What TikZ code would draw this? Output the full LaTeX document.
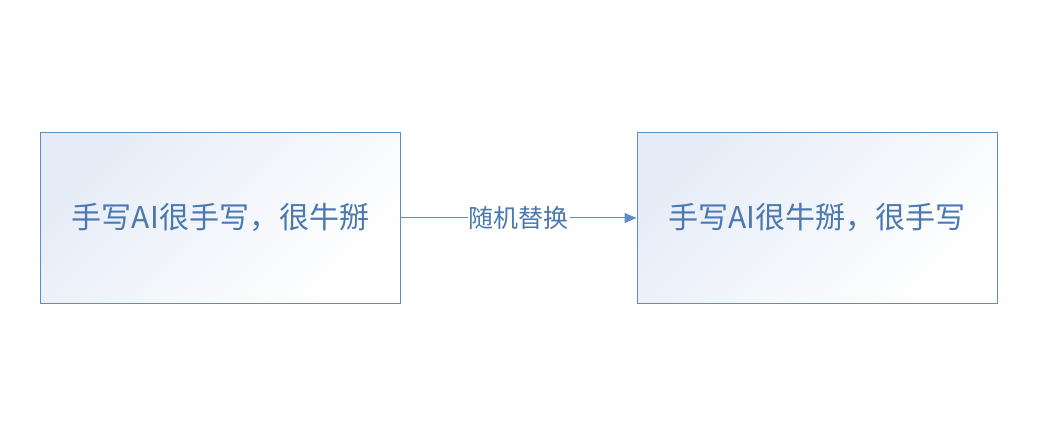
\documentclass[tikz,border=0pt]{standalone}
\usepackage{fontspec}
\newfontfamily\cjk{Noto Sans CJK SC}
\usetikzlibrary{arrows.meta}
\definecolor{bd}{HTML}{5B8EC9}
\definecolor{tx}{HTML}{4A78B0}
\definecolor{lt}{HTML}{E6ECF7}
\begin{document}
\begin{tikzpicture}[x=1pt,y=-1pt,
  box/.style={draw=bd,line width=1pt,minimum width=360pt,minimum height=171pt,
    left color=lt,right color=white,shading angle=45,text=tx,font=\cjk\fontsize{30}{34}\selectfont}]
\useasboundingbox (0,0) rectangle (1060,438);
\node[box] (a) at (220.5,218) {手写AI很手写，很牛掰};
\node[box] (b) at (817,218) {手写AI很牛掰，很手写};
\draw[bd,line width=1pt,-{Triangle[length=12pt,width=10pt]}] (a.east) -- node[fill=white,text=tx,inner sep=1pt,font=\cjk\fontsize{25}{28}\selectfont]{随机替换} (b.west);
\end{tikzpicture}
\end{document}
